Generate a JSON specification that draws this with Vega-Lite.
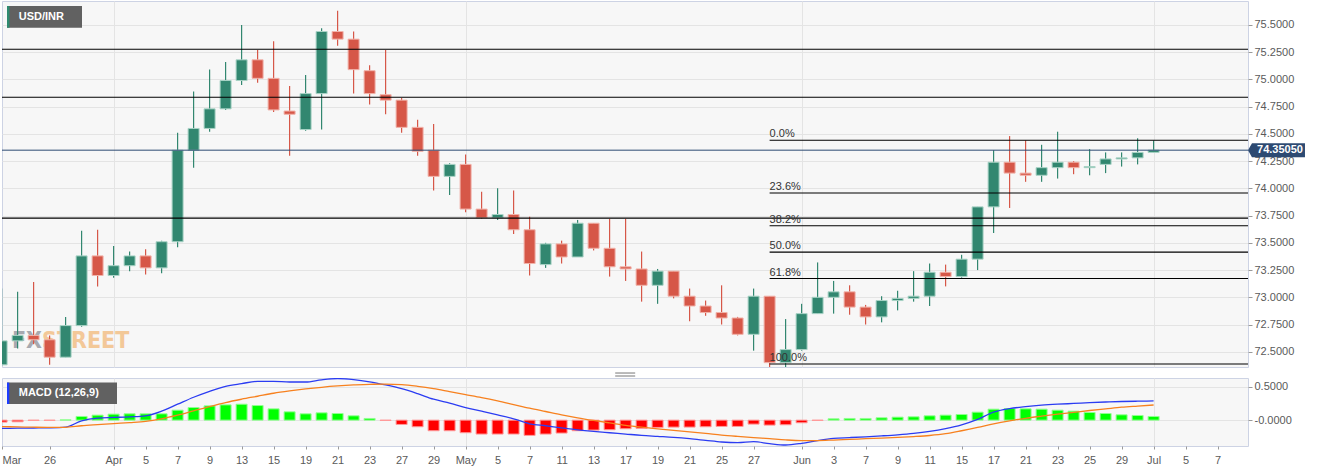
{
 "$schema": "https://vega.github.io/schema/vega-lite/v6.json",
 "padding": 0,
 "background": "#ffffff",
 "bounds": "flush",
 "spacing": 11,
 "config": {
  "view": {"stroke": "#cdd3e4", "fill": "#f7f7f7"},
  "axis": {"labelFont": "Liberation Sans", "labelFontSize": 11, "labelColor": "#5a5a5a", "tickColor": "#9a9a9a", "gridColor": "#e4e4e4", "domain": false},
  "axisX": {"labelOverlap": false},
  "scale": {"continuousPadding": 0}
 },
 "datasets": {
  "px": [
   {"i":-3,"d":"2021-03-23","o":72.38,"h":73.08,"l":72.37,"c":72.60,"m":-0.125,"s":-0.097,"hs":-0.03},
   {"i":-2,"d":"2021-03-24","o":72.60,"h":73.05,"l":72.53,"c":72.65,"m":-0.122,"s":-0.102,"hs":-0.025},
   {"i":-1,"d":"2021-03-25","o":72.65,"h":73.14,"l":72.57,"c":72.61,"m":-0.119,"s":-0.107,"hs":-0.004},
   {"i":0,"d":"2021-03-26","o":72.61,"h":72.65,"l":72.38,"c":72.45,"m":-0.116,"s":-0.110,"hs":-0.004},
   {"i":1,"d":"2021-03-29","o":72.45,"h":72.82,"l":72.45,"c":72.74,"m":-0.105,"s":-0.108,"hs":0.004},
   {"i":2,"d":"2021-03-30","o":72.74,"h":73.61,"l":72.73,"c":73.38,"m":-0.011,"s":-0.085,"hs":0.055},
   {"i":3,"d":"2021-03-31","o":73.38,"h":73.62,"l":73.10,"c":73.20,"m":0.030,"s":-0.068,"hs":0.075},
   {"i":4,"d":"2021-04-01","o":73.20,"h":73.47,"l":73.18,"c":73.29,"m":0.040,"s":-0.052,"hs":0.09},
   {"i":5,"d":"2021-04-02","o":73.29,"h":73.42,"l":73.24,"c":73.38,"m":0.050,"s":-0.038,"hs":0.095},
   {"i":6,"d":"2021-04-05","o":73.38,"h":73.44,"l":73.21,"c":73.27,"m":0.065,"s":-0.020,"hs":0.095},
   {"i":7,"d":"2021-04-06","o":73.27,"h":73.52,"l":73.22,"c":73.51,"m":0.135,"s":0.020,"hs":0.095},
   {"i":8,"d":"2021-04-07","o":73.51,"h":74.51,"l":73.46,"c":74.35,"m":0.240,"s":0.075,"hs":0.15},
   {"i":9,"d":"2021-04-08","o":74.35,"h":74.89,"l":74.19,"c":74.55,"m":0.345,"s":0.140,"hs":0.19},
   {"i":10,"d":"2021-04-09","o":74.55,"h":75.09,"l":74.52,"c":74.73,"m":0.435,"s":0.205,"hs":0.215},
   {"i":11,"d":"2021-04-12","o":74.73,"h":75.16,"l":74.72,"c":74.99,"m":0.510,"s":0.265,"hs":0.23},
   {"i":12,"d":"2021-04-13","o":74.99,"h":75.50,"l":74.95,"c":75.18,"m":0.550,"s":0.315,"hs":0.24},
   {"i":13,"d":"2021-04-14","o":75.18,"h":75.27,"l":74.97,"c":75.01,"m":0.585,"s":0.360,"hs":0.22},
   {"i":14,"d":"2021-04-15","o":75.01,"h":75.35,"l":74.70,"c":74.72,"m":0.585,"s":0.405,"hs":0.17},
   {"i":15,"d":"2021-04-16","o":74.71,"h":74.94,"l":74.30,"c":74.68,"m":0.575,"s":0.440,"hs":0.125},
   {"i":16,"d":"2021-04-19","o":74.54,"h":75.04,"l":74.53,"c":74.87,"m":0.575,"s":0.470,"hs":0.095},
   {"i":17,"d":"2021-04-20","o":74.87,"h":75.47,"l":74.54,"c":75.44,"m":0.608,"s":0.495,"hs":0.11},
   {"i":18,"d":"2021-04-21","o":75.44,"h":75.63,"l":75.31,"c":75.37,"m":0.626,"s":0.515,"hs":0.10},
   {"i":19,"d":"2021-04-22","o":75.37,"h":75.44,"l":74.87,"c":75.09,"m":0.611,"s":0.530,"hs":0.065},
   {"i":20,"d":"2021-04-23","o":75.08,"h":75.13,"l":74.77,"c":74.87,"m":0.578,"s":0.540,"hs":0.025},
   {"i":21,"d":"2021-04-26","o":74.86,"h":75.27,"l":74.68,"c":74.81,"m":0.530,"s":0.542,"hs":-0.004},
   {"i":22,"d":"2021-04-27","o":74.81,"h":74.83,"l":74.51,"c":74.56,"m":0.473,"s":0.535,"hs":-0.065},
   {"i":23,"d":"2021-04-28","o":74.56,"h":74.63,"l":74.30,"c":74.34,"m":0.398,"s":0.510,"hs":-0.10},
   {"i":24,"d":"2021-04-29","o":74.35,"h":74.59,"l":73.98,"c":74.11,"m":0.315,"s":0.475,"hs":-0.16},
   {"i":25,"d":"2021-04-30","o":74.11,"h":74.23,"l":73.94,"c":74.22,"m":0.255,"s":0.430,"hs":-0.16},
   {"i":26,"d":"2021-05-03","o":74.22,"h":74.31,"l":73.78,"c":73.81,"m":0.190,"s":0.385,"hs":-0.19},
   {"i":27,"d":"2021-05-04","o":73.81,"h":73.97,"l":73.72,"c":73.73,"m":0.135,"s":0.340,"hs":-0.21},
   {"i":28,"d":"2021-05-05","o":73.73,"h":74.00,"l":73.71,"c":73.76,"m":0.079,"s":0.290,"hs":-0.21},
   {"i":29,"d":"2021-05-06","o":73.76,"h":73.98,"l":73.58,"c":73.62,"m":0.020,"s":0.235,"hs":-0.21},
   {"i":30,"d":"2021-05-07","o":73.62,"h":73.74,"l":73.20,"c":73.31,"m":-0.055,"s":0.180,"hs":-0.23},
   {"i":31,"d":"2021-05-10","o":73.30,"h":73.50,"l":73.27,"c":73.49,"m":-0.085,"s":0.130,"hs":-0.21},
   {"i":32,"d":"2021-05-11","o":73.49,"h":73.52,"l":73.31,"c":73.37,"m":-0.116,"s":0.080,"hs":-0.195},
   {"i":33,"d":"2021-05-12","o":73.37,"h":73.71,"l":73.37,"c":73.68,"m":-0.146,"s":0.035,"hs":-0.16},
   {"i":34,"d":"2021-05-13","o":73.68,"h":73.68,"l":73.43,"c":73.45,"m":-0.170,"s":-0.005,"hs":-0.15},
   {"i":35,"d":"2021-05-14","o":73.45,"h":73.72,"l":73.19,"c":73.28,"m":-0.190,"s":-0.042,"hs":-0.145},
   {"i":36,"d":"2021-05-17","o":73.28,"h":73.72,"l":73.15,"c":73.26,"m":-0.210,"s":-0.078,"hs":-0.13},
   {"i":37,"d":"2021-05-18","o":73.26,"h":73.42,"l":72.96,"c":73.11,"m":-0.230,"s":-0.107,"hs":-0.125},
   {"i":38,"d":"2021-05-19","o":73.11,"h":73.26,"l":72.94,"c":73.24,"m":-0.245,"s":-0.132,"hs":-0.11},
   {"i":39,"d":"2021-05-20","o":73.24,"h":73.24,"l":72.99,"c":73.01,"m":-0.260,"s":-0.155,"hs":-0.105},
   {"i":40,"d":"2021-05-21","o":73.01,"h":73.08,"l":72.78,"c":72.92,"m":-0.280,"s":-0.177,"hs":-0.105},
   {"i":41,"d":"2021-05-24","o":72.92,"h":72.97,"l":72.83,"c":72.86,"m":-0.305,"s":-0.200,"hs":-0.10},
   {"i":42,"d":"2021-05-25","o":72.86,"h":73.11,"l":72.75,"c":72.81,"m":-0.330,"s":-0.225,"hs":-0.095},
   {"i":43,"d":"2021-05-26","o":72.81,"h":72.82,"l":72.65,"c":72.66,"m":-0.340,"s":-0.245,"hs":-0.095},
   {"i":44,"d":"2021-05-27","o":72.66,"h":73.08,"l":72.51,"c":73.01,"m":-0.325,"s":-0.263,"hs":-0.06},
   {"i":45,"d":"2021-05-28","o":73.01,"h":73.01,"l":72.34,"c":72.40,"m":-0.355,"s":-0.280,"hs":-0.075},
   {"i":46,"d":"2021-05-31","o":72.40,"h":72.80,"l":72.36,"c":72.52,"m":-0.375,"s":-0.298,"hs":-0.07},
   {"i":47,"d":"2021-06-01","o":72.52,"h":72.94,"l":72.51,"c":72.85,"m":-0.350,"s":-0.308,"hs":-0.04},
   {"i":48,"d":"2021-06-02","o":72.85,"h":73.32,"l":72.85,"c":73.00,"m":-0.308,"s":-0.308,"hs":-0.004},
   {"i":49,"d":"2021-06-03","o":73.00,"h":73.15,"l":72.85,"c":73.05,"m":-0.275,"s":-0.300,"hs":0.02},
   {"i":50,"d":"2021-06-04","o":73.05,"h":73.11,"l":72.84,"c":72.91,"m":-0.263,"s":-0.290,"hs":0.025},
   {"i":51,"d":"2021-06-07","o":72.91,"h":72.93,"l":72.75,"c":72.82,"m":-0.251,"s":-0.280,"hs":0.025},
   {"i":52,"d":"2021-06-08","o":72.82,"h":73.01,"l":72.77,"c":72.97,"m":-0.237,"s":-0.270,"hs":0.035},
   {"i":53,"d":"2021-06-09","o":72.97,"h":73.06,"l":72.88,"c":72.99,"m":-0.221,"s":-0.260,"hs":0.045},
   {"i":54,"d":"2021-06-10","o":72.99,"h":73.24,"l":72.96,"c":73.01,"m":-0.200,"s":-0.248,"hs":0.05},
   {"i":55,"d":"2021-06-11","o":73.01,"h":73.31,"l":72.92,"c":73.23,"m":-0.170,"s":-0.232,"hs":0.065},
   {"i":56,"d":"2021-06-14","o":73.23,"h":73.30,"l":73.10,"c":73.19,"m":-0.128,"s":-0.205,"hs":0.075},
   {"i":57,"d":"2021-06-15","o":73.19,"h":73.39,"l":73.18,"c":73.35,"m":-0.071,"s":-0.160,"hs":0.085},
   {"i":58,"d":"2021-06-16","o":73.35,"h":73.83,"l":73.25,"c":73.83,"m":0.011,"s":-0.110,"hs":0.12},
   {"i":59,"d":"2021-06-17","o":73.83,"h":74.35,"l":73.59,"c":74.24,"m":0.120,"s":-0.055,"hs":0.165},
   {"i":60,"d":"2021-06-18","o":74.24,"h":74.48,"l":73.82,"c":74.14,"m":0.173,"s":-0.010,"hs":0.175},
   {"i":61,"d":"2021-06-21","o":74.14,"h":74.44,"l":74.06,"c":74.12,"m":0.203,"s":0.028,"hs":0.17},
   {"i":62,"d":"2021-06-22","o":74.12,"h":74.40,"l":74.06,"c":74.19,"m":0.225,"s":0.060,"hs":0.165},
   {"i":63,"d":"2021-06-23","o":74.19,"h":74.52,"l":74.09,"c":74.24,"m":0.240,"s":0.090,"hs":0.15},
   {"i":64,"d":"2021-06-24","o":74.24,"h":74.25,"l":74.13,"c":74.19,"m":0.251,"s":0.117,"hs":0.135},
   {"i":65,"d":"2021-06-25","o":74.19,"h":74.36,"l":74.12,"c":74.20,"m":0.263,"s":0.145,"hs":0.115},
   {"i":66,"d":"2021-06-28","o":74.22,"h":74.33,"l":74.14,"c":74.27,"m":0.273,"s":0.170,"hs":0.10},
   {"i":67,"d":"2021-06-29","o":74.27,"h":74.33,"l":74.20,"c":74.28,"m":0.281,"s":0.195,"hs":0.08},
   {"i":68,"d":"2021-06-30","o":74.28,"h":74.46,"l":74.22,"c":74.33,"m":0.285,"s":0.212,"hs":0.07},
   {"i":69,"d":"2021-07-01","o":74.33,"h":74.44,"l":74.33,"c":74.3505,"m":0.290,"s":0.228,"hs":0.055}
  ],
  "fib": [
   {"lvl":74.442,"t":"0.0%"},
   {"lvl":73.957,"t":"23.6%"},
   {"lvl":73.657,"t":"38.2%"},
   {"lvl":73.415,"t":"50.0%"},
   {"lvl":73.172,"t":"61.8%"},
   {"lvl":72.387,"t":"100.0%"}
  ],
  "lv": [{"v":75.277},{"v":74.837},{"v":73.727}],
  "last": [{"v":74.3505,"t":"74.35050"}],
  "one": [{}]
 },
 "vconcat": [
  {
   "width": 1246,
   "height": 366,
   "layer": [
    {
     "data": {"name": "one"},
     "mark": {"type": "text", "text": "FX", "font": "DejaVu Sans Condensed, Liberation Sans, sans-serif", "fontWeight": "bold", "fontSize": 23, "color": "#8d8f99", "opacity": 0.75, "align": "right", "baseline": "alphabetic"},
     "encoding": {
      "x": {"datum": -0.475, "type": "quantitative", "scale": {"domain": [-2.975, 74.9], "nice": false, "zero": false, "padding": 0}, "axis": {"values": [4, 26, 47, 69], "tickCount": 100, "grid": true, "labels": false, "ticks": false, "domain": false, "title": null}},
      "y": {"datum": 72.537, "type": "quantitative", "scale": {"domain": [72.36, 75.72], "nice": false, "zero": false, "padding": 0}, "axis": {"orient": "right", "values": [72.5, 72.75, 73, 73.25, 73.5, 73.75, 74, 74.25, 74.5, 74.75, 75, 75.25, 75.5], "tickCount": 100, "format": ".4f", "grid": true, "title": null, "tickSize": 4, "labelPadding": 2, "labelOverlap": false}}
     }
    },
    {
     "data": {"name": "one"},
     "mark": {"type": "text", "text": "STREET", "font": "DejaVu Sans Condensed, Liberation Sans, sans-serif", "fontWeight": "bold", "fontSize": 23, "color": "#f3c088", "opacity": 0.85, "align": "left", "baseline": "alphabetic"},
     "encoding": {
      "x": {"datum": -0.475, "type": "quantitative"},
      "y": {"datum": 72.537, "type": "quantitative"}
     }
    },
    {
     "data": {"name": "px"},
     "mark": {"type": "rule", "clip": true, "strokeWidth": 1.2},
     "encoding": {
      "x": {"field": "i", "type": "quantitative", "title": null},
      "y": {"field": "l", "type": "quantitative", "title": null},
      "y2": {"field": "h"},
      "color": {"condition": {"test": "datum.c >= datum.o", "value": "#328770"}, "value": "#d65748"}
     }
    },
    {
     "data": {"name": "px"},
     "mark": {"type": "bar", "clip": true, "size": 11, "strokeWidth": 1},
     "encoding": {
      "x": {"field": "i", "type": "quantitative", "title": null},
      "y": {"field": "o", "type": "quantitative", "title": null},
      "y2": {"field": "c"},
      "fill": {"condition": {"test": "datum.c >= datum.o", "value": "#328770"}, "value": "#d65748"},
      "stroke": {"condition": {"test": "datum.c >= datum.o", "value": "#a9d3c6"}, "value": "#f1b3aa"}
     }
    },
    {
     "data": {"name": "lv"},
     "mark": {"type": "rule", "color": "#000000", "strokeWidth": 1.1},
     "encoding": {"y": {"field": "v", "type": "quantitative", "title": null}}
    },
    {
     "data": {"name": "last"},
     "mark": {"type": "rule", "color": "#2d4a72", "strokeWidth": 1},
     "encoding": {"y": {"field": "v", "type": "quantitative", "title": null}}
    },
    {
     "data": {"name": "fib"},
     "mark": {"type": "rule", "color": "#000000", "strokeWidth": 1.1},
     "encoding": {
      "x": {"datum": 45, "type": "quantitative"},
      "x2": {"datum": 74.9},
      "y": {"field": "lvl", "type": "quantitative", "title": null}
     }
    },
    {
     "data": {"name": "fib"},
     "mark": {"type": "text", "align": "left", "baseline": "alphabetic", "dy": -3, "font": "Liberation Sans", "fontSize": 11, "color": "#333333"},
     "encoding": {
      "x": {"datum": 45, "type": "quantitative"},
      "y": {"field": "lvl", "type": "quantitative", "title": null},
      "text": {"field": "t"}
     }
    },
    {
     "data": {"name": "last"},
     "mark": {"type": "point", "shape": "M-1,0L-0.86,-0.2456L1,-0.2456L1,0.2456L-0.86,0.2456Z", "size": 3249, "filled": true, "color": "#2d4a72", "opacity": 1, "strokeWidth": 0},
     "encoding": {
      "x": {"datum": 76.68, "type": "quantitative"},
      "y": {"field": "v", "type": "quantitative", "title": null}
     }
    },
    {
     "data": {"name": "last"},
     "mark": {"type": "text", "align": "center", "baseline": "middle", "font": "Liberation Sans", "fontWeight": "bold", "fontSize": 11, "color": "#ffffff"},
     "encoding": {
      "x": {"datum": 76.9, "type": "quantitative"},
      "y": {"field": "v", "type": "quantitative", "title": null},
      "text": {"field": "t"}
     }
    },
    {
     "data": {"name": "one"},
     "mark": {"type": "rect", "color": "#616161"},
     "encoding": {
      "x": {"datum": -2.6625, "type": "quantitative"},
      "x2": {"datum": 2.025},
      "y": {"datum": 75.674, "type": "quantitative"},
      "y2": {"datum": 75.475}
     }
    },
    {
     "data": {"name": "one"},
     "mark": {"type": "rect", "color": "#2e8b70"},
     "encoding": {
      "x": {"datum": -2.6625, "type": "quantitative"},
      "x2": {"datum": -2.51},
      "y": {"datum": 75.674, "type": "quantitative"},
      "y2": {"datum": 75.475}
     }
    },
    {
     "data": {"name": "one"},
     "mark": {"type": "text", "text": "USD/INR", "align": "left", "baseline": "middle", "font": "Liberation Sans", "fontWeight": "bold", "fontSize": 11, "color": "#ffffff"},
     "encoding": {
      "x": {"datum": -1.93, "type": "quantitative"},
      "y": {"datum": 75.575, "type": "quantitative"}
     }
    }
   ]
  },
  {
   "width": 1246,
   "height": 68,
   "layer": [
    {
     "data": {"name": "px"},
     "mark": {"type": "bar", "clip": true, "size": 11, "strokeWidth": 1},
     "encoding": {
      "x": {"field": "i", "type": "quantitative", "scale": {"domain": [-2.975, 74.9], "nice": false, "zero": false, "padding": 0},
       "axis": {"values": [-2.975, 0, 4, 6, 8, 10, 12, 14, 16, 18, 20, 22, 24, 26, 28, 30, 32, 34, 36, 38, 40, 42, 44, 47, 49, 51, 53, 55, 57, 59, 61, 63, 65, 67, 69, 71, 73],
        "tickCount": 100,
        "labelExpr": "datum.value < 0 ? 'Mar' : ['26','','','','Apr','','5','','7','','9','','13','','15','','19','','21','','23','','27','','29','','May','','5','','7','','11','','13','','17','','19','','21','','25','','27','','','Jun','','3','','7','','9','','11','','15','','17','','21','','23','','25','','29','','Jul','','5','','7'][datum.value]",
        "labelFlush": true, "labelOverlap": false, "labelBound": false, "tickSize": 3, "labelPadding": 5, "grid": true, "domain": false, "title": null,
        "gridColor": {"condition": {"test": "datum.value == 4 || datum.value == 26 || datum.value == 47 || datum.value == 69", "value": "#e4e4e4"}, "value": "rgba(0,0,0,0)"}}},
      "y": {"field": "hs", "type": "quantitative", "scale": {"domain": [-0.39, 0.635], "nice": false, "zero": false},
       "axis": {"orient": "right", "values": [0, 0.5], "tickCount": 10, "labelExpr": "datum.value == 0 ? '-0.0000' : format(datum.value, '.4f')", "grid": true, "title": null, "tickSize": 4, "labelPadding": 2}},
      "y2": {"datum": 0},
      "fill": {"condition": {"test": "datum.hs >= 0", "value": "#00ff00"}, "value": "#ff0000"},
      "stroke": {"condition": {"test": "datum.hs >= 0", "value": "#90ff90"}, "value": "#ff9a9a"}
     }
    },
    {
     "data": {"name": "px"},
     "mark": {"type": "line", "clip": true, "color": "#2b3cf2", "strokeWidth": 1.3, "interpolate": "monotone"},
     "encoding": {
      "x": {"field": "i", "type": "quantitative", "title": null},
      "y": {"field": "m", "type": "quantitative", "title": null}
     }
    },
    {
     "data": {"name": "px"},
     "mark": {"type": "line", "clip": true, "color": "#f7811f", "strokeWidth": 1.3, "interpolate": "monotone"},
     "encoding": {
      "x": {"field": "i", "type": "quantitative", "title": null},
      "y": {"field": "s", "type": "quantitative", "title": null}
     }
    },
    {
     "data": {"name": "one"},
     "mark": {"type": "rect", "color": "#616161"},
     "encoding": {
      "x": {"datum": -2.6625, "type": "quantitative"},
      "x2": {"datum": 4.2125},
      "y": {"datum": 0.5657, "type": "quantitative"},
      "y2": {"datum": 0.243}
     }
    },
    {
     "data": {"name": "one"},
     "mark": {"type": "rect", "color": "#1d3cff"},
     "encoding": {
      "x": {"datum": -2.6625, "type": "quantitative"},
      "x2": {"datum": -2.52},
      "y": {"datum": 0.5657, "type": "quantitative"},
      "y2": {"datum": 0.243}
     }
    },
    {
     "data": {"name": "one"},
     "mark": {"type": "text", "text": "MACD (12,26,9)", "align": "left", "baseline": "middle", "font": "Liberation Sans", "fontWeight": "bold", "fontSize": 11, "color": "#ffffff"},
     "encoding": {
      "x": {"datum": -1.93, "type": "quantitative"},
      "y": {"datum": 0.409, "type": "quantitative"}
     }
    },
    {
     "data": {"name": "one"},
     "mark": {"type": "rule", "color": "#777777", "strokeWidth": 1},
     "encoding": {
      "x": {"datum": 35.35, "type": "quantitative"},
      "x2": {"datum": 36.6},
      "y": {"datum": 0.71, "type": "quantitative"}
     }
    },
    {
     "data": {"name": "one"},
     "mark": {"type": "rule", "color": "#777777", "strokeWidth": 1},
     "encoding": {
      "x": {"datum": 35.35, "type": "quantitative"},
      "x2": {"datum": 36.6},
      "y": {"datum": 0.665, "type": "quantitative"}
     }
    }
   ]
  }
 ]
}
